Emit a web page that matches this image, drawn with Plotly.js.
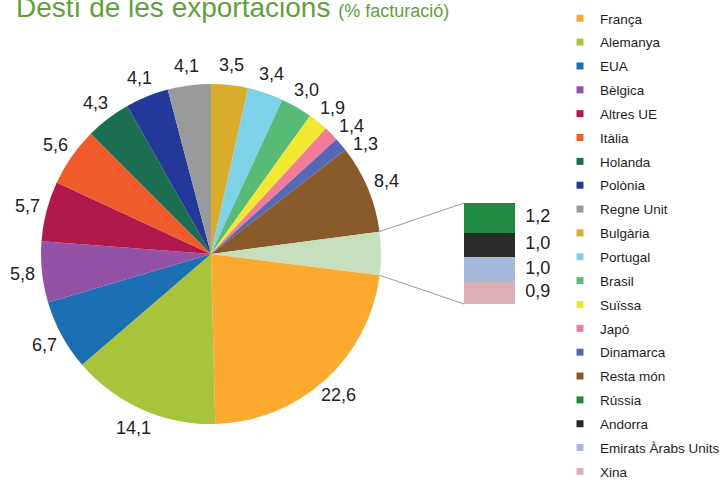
<!DOCTYPE html>
<html>
<head>
<meta charset="utf-8">
<script src="https://cdn.plot.ly/plotly-3.0.1.min.js"></script>
<style>html,body{margin:0;padding:0;background:#fff;}#chart{width:723px;height:482px;}</style>
</head>
<body>
<div id="chart"></div>
<script>
// ---- data ----
const countries = ['França','Alemanya','EUA','Bèlgica','Altres UE','Itàlia','Holanda','Polònia','Regne Unit','Bulgària','Portugal','Brasil','Suïssa','Japó','Dinamarca','Resta món'];
const shares = [22.6,14.1,6.7,5.8,5.7,5.6,4.3,4.1,4.1,3.5,3.4,3.0,1.9,1.4,1.3,8.4];
const countryColors = ['#fbaa2f','#a8c43a','#1d6fb3','#9352a6','#b1194c','#f15a2b','#1b6e4f','#24389a','#999a9c','#d9ac2b','#7dd1e8','#58bb78','#f3e830','#f07c97','#5568b5','#8b5a2b'];
const detailLabels = ['Rússia','Andorra','Emirats Àrabs Units','Xina'];
const detailShares = [1.2,1.0,1.0,0.9];
const detailColors = ['#1f8a44','#2a2a2a','#a7b9dc','#dcafb4'];
const groupLabel = 'Altres destins';
const groupColor = '#c5dfbf';
const titleMain = 'Destí de les exportacions';
const titleSub = '(% facturació)';

// ---- layout constants ----
const W = 723, H = 482;
const cx = 211, cy = 254, R = 170, labelR = 190;
const labelSize = 18, labelBoxH = 18;
const fmt = v => v.toFixed(1).replace('.', ',');
const toX = px => px/W, toY = py => 1 - py/H;
const textW = s => s.split('').reduce((a, ch) => a + (ch === ',' ? 0.278 : 0.556), 0) * labelSize;

// pie order: clockwise from 12 o'clock, starting at Bulgària
const startIdx = countries.indexOf('Bulgària');
const pieLabels = [], pieValues = [], pieColors = [];
for (let i = startIdx; i < countries.length; i++) { pieLabels.push(countries[i]); pieValues.push(shares[i]); pieColors.push(countryColors[i]); }
const groupValue = detailShares.reduce((a,b)=>a+b,0);
pieLabels.push(groupLabel); pieValues.push(groupValue); pieColors.push(groupColor);
for (let i = 0; i < startIdx; i++) { pieLabels.push(countries[i]); pieValues.push(shares[i]); pieColors.push(countryColors[i]); }

const traces = [];
traces.push({
  type: 'pie', labels: pieLabels, values: pieValues, sort: false, direction: 'clockwise', rotation: 0,
  marker: {colors: pieColors, line: {width: 0}}, textinfo: 'none',
  domain: {x: [(cx-R)/W, (cx+R)/W], y: [(H-cy-R)/H, (H-cy+R)/H]},
  showlegend: false, hoverinfo: 'label+value'
});

// value labels around the pie, at each slice's mid-angle, nudged clockwise if they collide
const total = pieValues.reduce((a,b)=>a+b,0);
const annotations = [];
let acc = 0, prev = null;
pieValues.forEach((v, i) => {
  let ang = (acc + v/2)/total*2*Math.PI;
  acc += v;
  if (pieLabels[i] === groupLabel) return;
  const txt = fmt(v), w = textW(txt);
  let px, py;
  for (let k = 0; k < 60; k++) {
    px = cx + labelR*Math.sin(ang); py = cy - labelR*Math.cos(ang);
    if (!prev) break;
    const ox = Math.abs(px - prev.x) < (w + prev.w)/2;
    const oy = Math.abs(py - prev.y) < labelBoxH;
    if (!(ox && oy)) break;
    ang += 0.25*Math.PI/180;
  }
  prev = {x: px, y: py, w: w};
  annotations.push({xref: 'paper', yref: 'paper', x: toX(px), y: toY(py), text: txt, showarrow: false, xanchor: 'center', yanchor: 'middle', font: {family: 'Liberation Sans, Arial', size: labelSize, color: '#222'}});
});

// stacked detail bar (bottom -> top: reverse order)
const rev = [...detailLabels.keys()].reverse();
let cum = 0; const midY = [], textArr = [];
rev.forEach(i => {
  traces.push({type: 'bar', x: [0], y: [detailShares[i]], width: [1], name: detailLabels[i], marker: {color: detailColors[i], line: {width: 0}}, xaxis: 'x', yaxis: 'y', showlegend: false, hoverinfo: 'name+y'});
  midY.push(cum + detailShares[i]/2); textArr.push(fmt(detailShares[i])); cum += detailShares[i];
});
traces.push({type: 'scatter', mode: 'text', x: midY.map(()=>0.7), y: midY, text: textArr, textposition: 'middle right', textfont: {family: 'Liberation Sans, Arial', size: labelSize, color: '#222'}, xaxis: 'x', yaxis: 'y', showlegend: false, hoverinfo: 'skip'});

// legend entries
const legendNames = countries.concat(detailLabels);
const legendColors = countryColors.concat(detailColors);
legendNames.forEach((n, k) => {
  traces.push({type: 'scatter', mode: 'markers', x: [null], y: [null], name: n, legendgroup: 'g' + k, marker: {symbol: 'square', size: 7, color: legendColors[k]}, xaxis: 'x', yaxis: 'y', hoverinfo: 'skip'});
});

// connector lines from grouped slice edges to bar corners
const gi = pieLabels.indexOf(groupLabel);
const before = pieValues.slice(0, gi).reduce((a,b)=>a+b,0);
const a1 = before/total*2*Math.PI, a2 = (before+groupValue)/total*2*Math.PI;
const p1 = [cx + R*Math.sin(a1), cy - R*Math.cos(a1)];
const p2 = [cx + R*Math.sin(a2), cy - R*Math.cos(a2)];
const barLeft = 464, barTop = 203, barBottom = 304;
const shapes = [
  {type: 'line', xref: 'paper', yref: 'paper', x0: toX(p1[0]), y0: toY(p1[1]), x1: toX(barLeft), y1: toY(barTop), line: {color: '#9a9a9a', width: 1}},
  {type: 'line', xref: 'paper', yref: 'paper', x0: toX(p2[0]), y0: toY(p2[1]), x1: toX(barLeft), y1: toY(barBottom), line: {color: '#9a9a9a', width: 1}}
];

const layout = {
  width: W, height: H, margin: {l: 0, r: 0, t: 0, b: 0, autoexpand: false}, paper_bgcolor: '#fff', plot_bgcolor: 'rgba(0,0,0,0)',
  separators: ',.',
  font: {family: 'Liberation Sans, Arial', color: '#222'},
  title: {text: titleMain + ' <span style="font-size:18px">' + titleSub + '</span>', xref: 'container', yref: 'container', x: 16/W, xanchor: 'left', y: 1 - 7/H, yanchor: 'middle', font: {family: 'Liberation Sans, Arial', size: 28, color: '#62a03e'}},
  xaxis: {domain: [barLeft/W, 560/W], range: [-0.5, -0.5 + 96/51], visible: false, fixedrange: true},
  yaxis: {domain: [toY(barBottom), toY(barTop)], range: [0, groupValue], visible: false, fixedrange: true},
  barmode: 'stack', bargap: 0,
  showlegend: true,
  legend: {x: 560/W, xanchor: 'left', y: 1 - 3/H, yanchor: 'top', xref: 'paper', yref: 'paper', traceorder: 'grouped', tracegroupgap: 3.3, bgcolor: 'rgba(0,0,0,0)', font: {family: 'Liberation Sans, Arial', size: 13.5, color: '#1e1e1e'}, itemclick: false, itemdoubleclick: false},
  annotations: annotations,
  shapes: shapes
};

Plotly.newPlot('chart', traces, layout, {displayModeBar: false, staticPlot: true});
</script>
</body>
</html>
